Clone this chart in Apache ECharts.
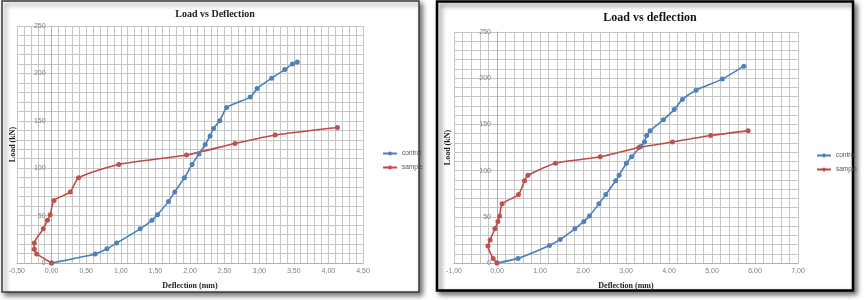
<!DOCTYPE html>
<html>
<head>
<meta charset="utf-8">
<script src="https://cdn.jsdelivr.net/npm/echarts@6/dist/echarts.min.js"></script>
<style>html,body{margin:0;padding:0;background:#fff}#c{width:868px;height:300px}</style>
</head>
<body>
<div id="c"></div>
<script>
// Left chart (Load vs Deflection)
const controlA_x = [0, 0.63, 0.80, 0.94, 1.28, 1.45, 1.53, 1.69, 1.78, 1.92, 2.03, 2.13, 2.22, 2.29, 2.34, 2.43, 2.53, 2.87, 2.97, 3.18, 3.37, 3.48, 3.55];
const controlA_y = [0, 9.5, 15, 21, 36, 45, 51, 65, 75, 90, 104, 115, 125, 134, 142, 150, 164, 175, 184, 195, 204, 210, 212];
const sampleA_x = [0, -0.215, -0.25, -0.25, -0.12, -0.06, -0.02, 0.035, 0.27, 0.39, 0.97, 1.95, 2.65, 3.23, 4.13];
const sampleA_y = [0, 9.5, 14.5, 21, 36, 45, 51, 66, 75, 90, 104, 114, 126, 135, 143];
// Right chart (Load vs deflection)
const controlB_x = [0, 0.49, 1.22, 1.47, 1.81, 2.02, 2.15, 2.37, 2.53, 2.76, 2.84, 3.01, 3.13, 3.34, 3.43, 3.48, 3.56, 3.87, 4.12, 4.31, 4.63, 5.24, 5.74];
const controlB_y = [0, 5, 19, 25.5, 37, 45, 51, 64, 74, 89, 95, 108, 115, 126, 131, 138, 143, 155, 166, 177, 187, 199, 213];
const sampleB_x = [0, -0.09, -0.21, -0.16, -0.05, 0.02, 0.06, 0.12, 0.50, 0.64, 0.72, 1.36, 2.40, 3.30, 4.08, 4.97, 5.84];
const sampleB_y = [0, 5, 18.5, 25, 37, 45, 51, 64, 74, 89, 95, 108, 115, 125, 131, 138, 143];

const titles = ['Load vs Deflection', 'Load vs deflection'];
const xName = 'Deflection (mm)';
const yName = 'Load (kN)';
const seriesNames = ['control', 'sample'];
const xRangeA = [-0.5, 4.5, 0.5];
const xRangeB = [-1, 7, 1];
const yRange = [0, 250, 50];

const zip = (xs, ys) => xs.map((x, i) => [x, ys[i]]);
const fmt = v => v.toFixed(2).replace('.', ',');

const BLUE = '#4a7ebb', BLUE_M = '#4f81bd', RED = '#be4b48', RED_M = '#c0504d';
const GRID_C = '#c6c6c6';
const LBL = { color: '#808080', fontSize: 7, fontFamily: 'Liberation Sans' };
const NAME = { color: '#222', fontSize: 8, fontWeight: 'bold', fontFamily: 'Liberation Serif' };

const gridBoxes = [
  { left: 17, top: 26, width: 346, height: 237 },
  { left: 454, top: 32, width: 344, height: 231 }
];
const xRanges = [xRangeA, xRangeB];
// x pixel of the value 0 on each plot's x axis (Excel draws the value axis there)
const zeroX = i => gridBoxes[i].left + gridBoxes[i].width * (0 - xRanges[i][0]) / (xRanges[i][1] - xRanges[i][0]);
// helper grids: zero-width boxes sitting on x = 0, carrying the y-axis labels
const helperBoxes = gridBoxes.map((g, i) => ({ left: zeroX(i), top: g.top, width: 1, height: g.height }));

function xAxis(gi) {
  const r = xRanges[gi];
  return {
    type: 'value', gridIndex: gi, min: r[0], max: r[1], interval: r[2],
    axisLine: { show: true, onZero: false, lineStyle: { color: '#b0b0b0', width: 1 } },
    axisTick: { show: false },
    axisLabel: Object.assign({ formatter: fmt, margin: 5 }, LBL),
    splitLine: { show: true, lineStyle: { color: GRID_C, width: 1 } },
    minorTick: { show: false, splitNumber: 5 },
    minorSplitLine: { show: true, lineStyle: { color: GRID_C, width: 1 } },
    name: xName, nameLocation: 'middle', nameGap: 19, nameTextStyle: NAME
  };
}
function yGridAxis(gi) {
  return {
    type: 'value', gridIndex: gi, min: yRange[0], max: yRange[1], interval: yRange[2],
    axisLine: { show: false, onZero: false }, axisTick: { show: false }, axisLabel: { show: false },
    splitLine: { show: true, lineStyle: { color: GRID_C, width: 1 } },
    minorTick: { show: false, splitNumber: 5 },
    minorSplitLine: { show: true, lineStyle: { color: GRID_C, width: 1 } }
  };
}
function yLabelAxis(gi, gap) {
  return {
    type: 'value', gridIndex: gi, min: yRange[0], max: yRange[1], interval: yRange[2],
    position: 'left',
    axisLine: { show: true, onZero: false, lineStyle: { color: '#b0b0b0', width: 1 } },
    axisTick: { show: false },
    axisLabel: Object.assign({ margin: 6 }, LBL),
    splitLine: { show: false },
    name: yName, nameLocation: 'middle', nameGap: gap, nameRotate: 90, nameTextStyle: NAME
  };
}
function hiddenX(gi) {
  return { type: 'value', gridIndex: gi, min: 0, max: 1, show: false };
}
function ser(name, data, gi, line, mark, sym) {
  return {
    name, type: 'line', xAxisIndex: gi, yAxisIndex: gi, data,
    smooth: 0.2, symbol: sym, symbolSize: 5, showSymbol: true,
    lineStyle: { color: line, width: 1.6 },
    itemStyle: { color: mark },
    animation: false
  };
}

const chart = echarts.init(document.getElementById('c'), null, { renderer: 'canvas' });
chart.setOption({
  backgroundColor: '#fff',
  animation: false,
  graphic: [
    { type: 'rect', z: -10, shape: { x: 2, y: 1, width: 417, height: 291 },
      style: { fill: '#fff', stroke: '#3a3a3a', lineWidth: 1.5, shadowBlur: 5, shadowOffsetX: 3, shadowOffsetY: 3, shadowColor: 'rgba(0,0,0,0.55)' } },
    { type: 'rect', z: -10, shape: { x: 437, y: 1.5, width: 416, height: 289 },
      style: { fill: '#fff', stroke: '#000', lineWidth: 2.5, shadowBlur: 5, shadowOffsetX: 3, shadowOffsetY: 3, shadowColor: 'rgba(0,0,0,0.55)' } }
  ],
  title: [
    { text: titles[0], left: 210, top: 4, textAlign: 'center',
      textStyle: { fontFamily: 'Liberation Serif', fontWeight: 'bold', fontSize: 10, color: '#222' } },
    { text: titles[1], left: 645, top: 7, textAlign: 'center',
      textStyle: { fontFamily: 'Liberation Serif', fontWeight: 'bold', fontSize: 12, color: '#111' } }
  ],
  legend: [
    { data: seriesNames, orient: 'vertical', left: 377, top: 145, itemWidth: 14, itemHeight: 5, itemGap: 7,
      textStyle: { fontSize: 6.5, color: '#555', fontFamily: 'Liberation Sans' } },
    { data: seriesNames, orient: 'vertical', left: 811, top: 147, itemWidth: 14, itemHeight: 5, itemGap: 7,
      textStyle: { fontSize: 6.5, color: '#555', fontFamily: 'Liberation Sans' } }
  ],
  grid: gridBoxes.concat(helperBoxes).map(g => Object.assign({ containLabel: false, outerBoundsMode: 'none' }, g)),
  xAxis: [xAxis(0), xAxis(1), hiddenX(2), hiddenX(3)],
  yAxis: [yGridAxis(0), yGridAxis(1), yLabelAxis(2, 35), yLabelAxis(3, 45)],
  series: [
    ser(seriesNames[0], zip(controlA_x, controlA_y), 0, BLUE, BLUE_M, 'circle'),
    ser(seriesNames[1], zip(sampleA_x, sampleA_y), 0, RED, RED_M, 'circle'),
    ser(seriesNames[0], zip(controlB_x, controlB_y), 1, BLUE, BLUE_M, 'circle'),
    ser(seriesNames[1], zip(sampleB_x, sampleB_y), 1, RED, RED_M, 'circle')
  ]
});
</script>
</body>
</html>
